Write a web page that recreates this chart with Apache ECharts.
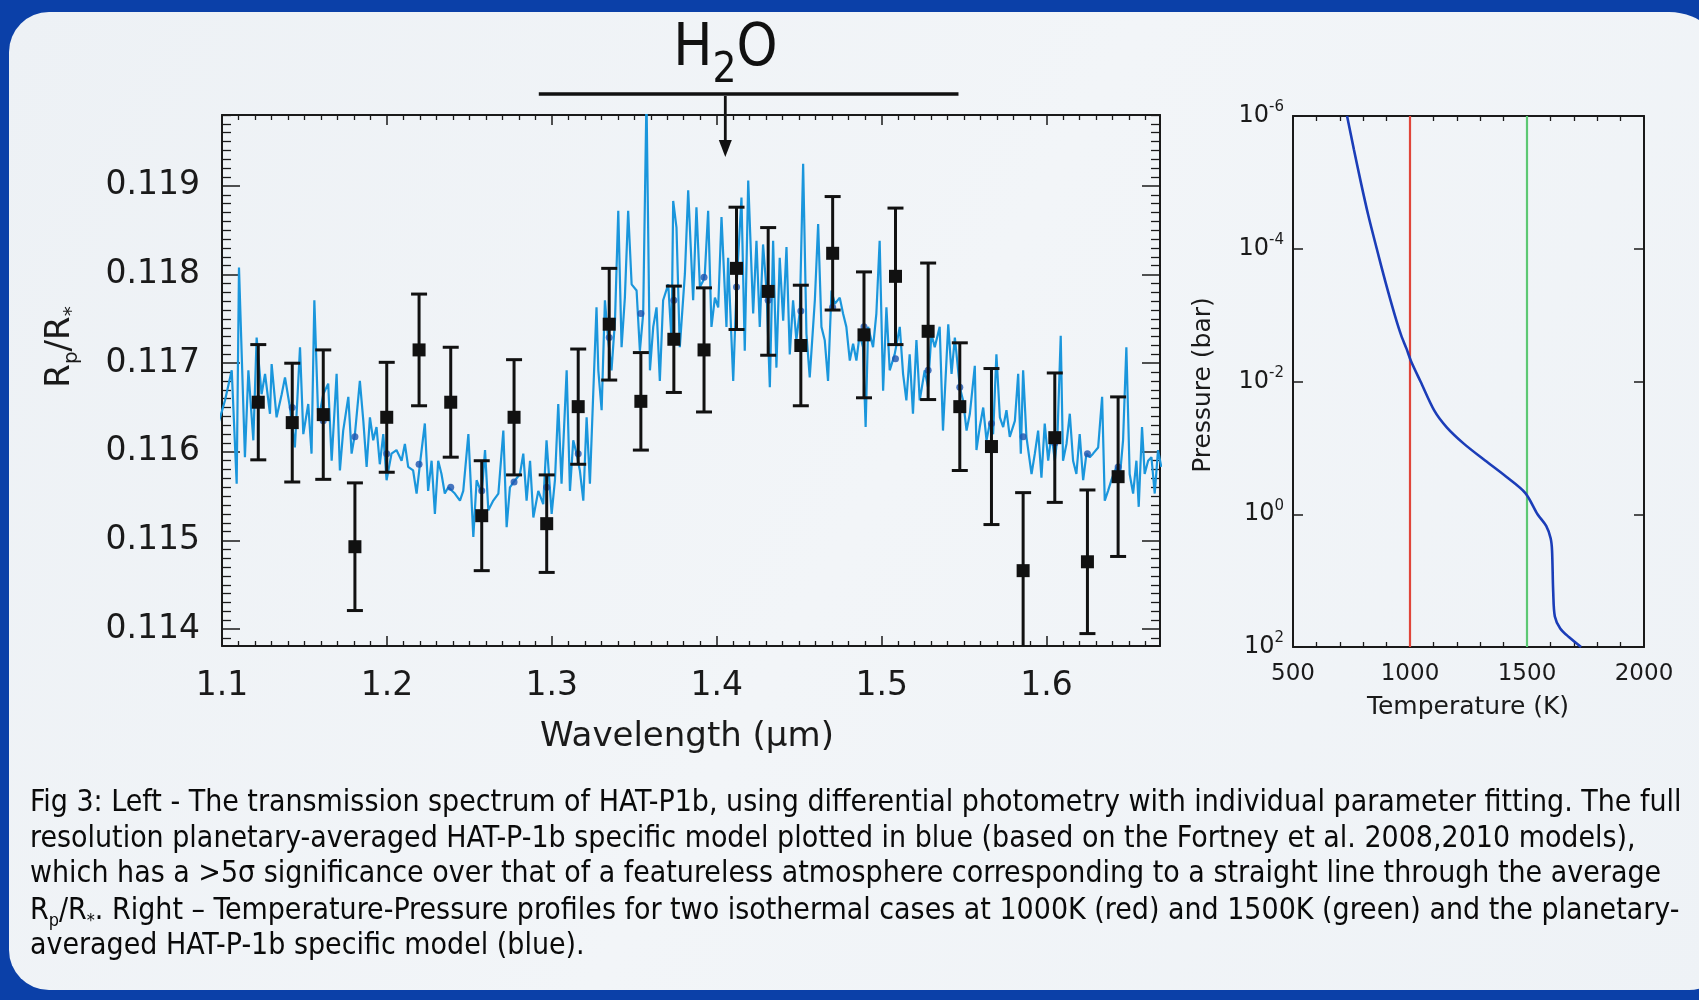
<!DOCTYPE html>
<html><head><meta charset="utf-8">
<script src="https://cdn.jsdelivr.net/npm/echarts@6/dist/echarts.min.js"></script>
<style>html,body{margin:0;padding:0;background:#0b40a8;} #c{width:1699px;height:1000px;}</style>
</head><body><div id="c"></div>
<script>
// ---------- data: left panel (transmission spectrum) ----------
const wavelength = [1.1220,1.1426,1.1614,1.1806,1.1999,1.2195,1.2387,1.2575,1.2771,1.2969,1.3160,1.3348,1.3540,1.3740,1.3923,1.4120,1.4312,1.4510,1.4703,1.4893,1.5084,1.5282,1.5474,1.5666,1.5858,1.6050,1.6248,1.6434];
const rpRs = [0.11656,0.11633,0.11642,0.11493,0.11639,0.11715,0.11656,0.11528,0.11639,0.11519,0.11651,0.11744,0.11657,0.11727,0.11715,0.11807,0.11781,0.11720,0.11824,0.11732,0.11798,0.11736,0.11651,0.11606,0.11466,0.11616,0.11476,0.11572];
const rpErr = [0.00065,0.00067,0.00073,0.00072,0.00062,0.00063,0.00062,0.00062,0.00065,0.00055,0.00065,0.00063,0.00055,0.00060,0.00070,0.00069,0.00072,0.00068,0.00064,0.00071,0.00077,0.00077,0.00072,0.00088,0.00088,0.00073,0.00081,0.00090];
const binnedModel = [0.11660,0.11650,0.11635,0.11617,0.11598,0.11586,0.11560,0.11556,0.11566,0.11560,0.11598,0.11729,0.11756,0.11771,0.11797,0.11786,0.11771,0.11759,0.11763,0.11741,0.11705,0.11692,0.11673,0.11632,0.11617,0.11610,0.11598,0.11583];
const modelWl = [
1.0952,1.0978,1.1018,1.1059,1.1089,1.1103,1.1139,1.1160,1.1190,1.1210,1.1240,1.1261,1.1291,1.1301,1.1331,1.1362,1.1382,1.1412,1.1442,1.1473,
1.1493,1.1523,1.1543,1.1560,1.1584,1.1614,1.1644,1.1665,1.1695,1.1715,1.1735,1.1766,1.1786,1.1806,1.1836,1.1857,1.1877,1.1897,1.1917,1.1937,
1.1957,1.1978,1.1998,1.2028,1.2058,1.2089,1.2109,1.2129,1.2159,1.2180,1.2200,1.2230,1.2250,1.2271,1.2291,1.2311,1.2331,1.2351,1.2372,1.2412,
1.2443,1.2463,1.2494,1.2524,1.2544,1.2575,1.2595,1.2615,1.2645,1.2676,1.2706,1.2726,1.2746,1.2777,1.2807,1.2827,1.2847,1.2868,1.2888,1.2918,
1.2948,1.2968,1.2999,1.3019,1.3039,1.3059,1.3090,1.3110,1.3130,1.3150,1.3170,1.3191,1.3211,1.3231,1.3251,1.3271,1.3282,1.3302,1.3322,1.3342,
1.3362,1.3383,1.3403,1.3423,1.3443,1.3463,1.3484,1.3514,1.3534,1.3554,1.3574,1.3595,1.3615,1.3635,1.3655,1.3675,1.3706,1.3726,1.3736,1.3756,
1.3776,1.3807,1.3827,1.3857,1.3877,1.3898,1.3918,1.3928,1.3948,1.3968,1.3989,1.4009,1.4029,1.4059,1.4069,1.4100,1.4120,1.4150,1.4170,1.4191,
1.4221,1.4241,1.4261,1.4281,1.4302,1.4322,1.4342,1.4362,1.4382,1.4403,1.4423,1.4443,1.4463,1.4483,1.4504,1.4524,1.4544,1.4564,1.4595,1.4615,
1.4635,1.4655,1.4675,1.4696,1.4716,1.4746,1.4766,1.4786,1.4807,1.4827,1.4847,1.4867,1.4887,1.4903,1.4918,1.4948,1.4968,1.4988,1.5009,1.5029,
1.5049,1.5079,1.5110,1.5130,1.5150,1.5170,1.5190,1.5211,1.5231,1.5261,1.5281,1.5302,1.5322,1.5352,1.5372,1.5404,1.5424,1.5444,1.5474,1.5494,
1.5515,1.5535,1.5565,1.5575,1.5595,1.5616,1.5636,1.5656,1.5676,1.5696,1.5717,1.5737,1.5757,1.5777,1.5808,1.5828,1.5844,1.5858,1.5878,1.5909,
1.5929,1.5949,1.5969,1.5989,1.6010,1.6030,1.6050,1.6066,1.6086,1.6100,1.6121,1.6141,1.6161,1.6181,1.6201,1.6222,1.6242,1.6262,1.6282,1.6313,
1.6337,1.6353,1.6373,1.6393,1.6424,1.6444,1.6464,1.6484,1.6504,1.6525,1.6545,1.6559,1.6579,1.6595,1.6616,1.6636,1.6656,1.6676,1.6696];
const modelRpRs = [
0.11722,0.11632,0.11658,0.11692,0.11564,0.11808,0.11594,0.11692,0.11613,0.11729,0.11665,0.11688,0.11643,0.11699,0.11639,0.11665,0.11684,0.11650,0.11605,0.11718,
0.11620,0.11654,0.11598,0.11771,0.11635,0.11665,0.11677,0.11590,0.11688,0.11579,0.11624,0.11662,0.11598,0.11620,0.11680,0.11635,0.11583,0.11639,0.11613,0.11628,
0.11586,0.11620,0.11568,0.11598,0.11602,0.11590,0.11609,0.11583,0.11579,0.11553,0.11586,0.11632,0.11556,0.11590,0.11530,0.11590,0.11575,0.11553,0.11560,0.11553,
0.11545,0.11556,0.11620,0.11504,0.11568,0.11553,0.11602,0.11534,0.11545,0.11553,0.11624,0.11515,0.11560,0.11568,0.11575,0.11598,0.11545,0.11590,0.11526,0.11556,
0.11541,0.11613,0.11530,0.11568,0.11654,0.11564,0.11692,0.11556,0.11613,0.11598,0.11579,0.11545,0.11639,0.11564,0.11665,0.11763,0.11692,0.11647,0.11771,0.11726,
0.11692,0.11748,0.11872,0.11718,0.11774,0.11872,0.11789,0.11782,0.11714,0.11756,0.12000,0.11692,0.11741,0.11763,0.11680,0.11771,0.11789,0.11726,0.11883,0.11853,
0.11718,0.11801,0.11895,0.11771,0.11876,0.11786,0.11793,0.11801,0.11872,0.11741,0.11774,0.11763,0.11865,0.11741,0.11819,0.11680,0.11786,0.11887,0.11714,0.11906,
0.11756,0.11838,0.11741,0.11834,0.11782,0.11673,0.11838,0.11695,0.11819,0.11748,0.11831,0.11710,0.11771,0.11726,0.11759,0.11925,0.11733,0.11684,0.11771,0.11857,
0.11741,0.11726,0.11680,0.11782,0.11767,0.11774,0.11756,0.11741,0.11703,0.11722,0.11703,0.11733,0.11718,0.11628,0.11741,0.11718,0.11756,0.11838,0.11669,0.11763,
0.11692,0.11710,0.11741,0.11688,0.11658,0.11710,0.11643,0.11726,0.11658,0.11692,0.11673,0.11733,0.11718,0.11741,0.11624,0.11744,0.11688,0.11729,0.11673,0.11658,
0.11624,0.11643,0.11697,0.11602,0.11628,0.11650,0.11613,0.11632,0.11620,0.11710,0.11639,0.11628,0.11647,0.11617,0.11635,0.11688,0.11598,0.11692,0.11617,0.11575,
0.11598,0.11624,0.11571,0.11632,0.11590,0.11620,0.11590,0.11617,0.11731,0.11590,0.11609,0.11643,0.11590,0.11575,0.11620,0.11568,0.11598,0.11594,0.11598,0.11605,
0.11662,0.11545,0.11556,0.11568,0.11583,0.11571,0.11613,0.11718,0.11575,0.11553,0.11590,0.11538,0.11628,0.11575,0.11590,0.11594,0.11553,0.11602,0.11583];
const wlRange = [1.1, 1.6688];
const rpRange = [0.11381, 0.11980];
const h2oBand = [1.2921, 1.5466];
const h2oArrow = 1.4052;

// ---------- data: right panel (T-P profiles) ----------
const profileT = [731,760,790,822,858,895,935,962,985,1005,1045,1104,1157,1231,1321,1410,1493,1545,1582,1601,1607,1612,1619,1642,1679,1731];
const profileP = [1e-6,3.16e-6,1.0e-5,3.16e-5,1.0e-4,3.16e-4,1.0e-3,2.0e-3,3.2e-3,5.0e-3,1.0e-2,2.75e-2,4.9e-2,8.7e-2,0.155,0.27,0.48,1.0,1.5,2.3,3.5,14.8,34.7,52.5,70.8,100];
const isoT = [1000, 1500];
const isoColors = ['#e0453a', '#5cc873'];
const tRange = [500, 2000];
const pRange = [1e-6, 1e2];
const pTicks = [1e-6, 1e-4, 1e-2, 1, 1e2];

const captionLines = [
  'Fig 3: Left - The transmission spectrum of HAT-P1b, using differential photometry with individual parameter fitting. The full',
  'resolution planetary-averaged HAT-P-1b specific model plotted in blue (based on the Fortney et al. 2008,2010 models),',
  'which has a >5\u03c3 significance over that of a featureless atmosphere corresponding to a straight line through the average',
  'R{sub|p}/R{sub|*}. Right \u2013 Temperature-Pressure profiles for two isothermal cases at 1000K (red) and 1500K (green) and the planetary-',
  'averaged HAT-P-1b specific model (blue).'
];

// ---------- chart ----------
const INK = '#1a1a1a';
const TF = "'DejaVu Sans', sans-serif";
const CF = "'Liberation Sans Narrow', 'DejaVu Sans Condensed', sans-serif";

const chart = echarts.init(document.getElementById('c'), null, {renderer: 'canvas', width: 1699, height: 1000});

function axisBase(extra) {
  return Object.assign({
    axisLine: {show: true, onZero: false, lineStyle: {color: INK, width: 2}},
    splitLine: {show: false},
    minorSplitLine: {show: false}
  }, extra);
}

const option = {
  backgroundColor: '#0b40a8',
  animation: false,
  grid: [
    {left: 222, right: 539, top: 115, bottom: 354, containLabel: false},
    {left: 1293, right: 55, top: 116, bottom: 353, containLabel: false}
  ],
  xAxis: [
    axisBase({gridIndex: 0, type: 'value', position: 'bottom', min: wlRange[0], max: wlRange[1], interval: 0.1,
      axisTick: {inside: true, length: 10, lineStyle: {color: INK, width: 1.5}},
      minorTick: {show: true, splitNumber: 10, length: 5, lineStyle: {color: INK, width: 1.3}},
      axisLabel: {show: true, showMaxLabel: false, fontSize: 33, color: INK, fontFamily: TF, margin: 24}}),
    axisBase({gridIndex: 0, type: 'value', position: 'top', min: wlRange[0], max: wlRange[1], interval: 0.1,
      axisTick: {inside: true, length: 10, lineStyle: {color: INK, width: 1.5}},
      minorTick: {show: true, splitNumber: 10, length: 5, lineStyle: {color: INK, width: 1.3}},
      axisLabel: {show: false}}),
    axisBase({gridIndex: 1, type: 'value', position: 'bottom', min: tRange[0], max: tRange[1], interval: 500,
      axisTick: {inside: true, length: 10, lineStyle: {color: INK, width: 1.5}},
      minorTick: {show: true, splitNumber: 5, length: 5, lineStyle: {color: INK, width: 1.3}},
      axisLabel: {show: true, fontSize: 23, color: INK, fontFamily: TF, margin: 16, formatter: v => String(v)}}),
    axisBase({gridIndex: 1, type: 'value', position: 'top', min: tRange[0], max: tRange[1], interval: 500,
      axisTick: {inside: true, length: 10, lineStyle: {color: INK, width: 1.5}},
      minorTick: {show: true, splitNumber: 5, length: 5, lineStyle: {color: INK, width: 1.3}},
      axisLabel: {show: false}})
  ],
  yAxis: [
    axisBase({gridIndex: 0, type: 'value', position: 'left', min: rpRange[0], max: rpRange[1], splitNumber: 6,
      axisTick: {inside: true, length: 18, lineStyle: {color: INK, width: 1.5}},
      minorTick: {show: true, splitNumber: 10, length: 9, lineStyle: {color: INK, width: 1.3}},
      axisLabel: {show: true, showMinLabel: false, showMaxLabel: false, fontSize: 33, color: INK, fontFamily: TF, margin: 22}}),
    axisBase({gridIndex: 0, type: 'value', position: 'right', min: rpRange[0], max: rpRange[1], splitNumber: 6,
      axisTick: {inside: true, length: 18, lineStyle: {color: INK, width: 1.5}},
      minorTick: {show: true, splitNumber: 10, length: 9, lineStyle: {color: INK, width: 1.3}},
      axisLabel: {show: false}}),
    axisBase({gridIndex: 1, type: 'log', logBase: 10, position: 'left', min: pRange[0], max: pRange[1], inverse: true,
      axisTick: {inside: true, length: 10, customValues: pTicks, lineStyle: {color: INK, width: 1.5}},
      axisLabel: {show: true, customValues: pTicks, fontSize: 24, color: INK, fontFamily: TF, margin: 9, lineHeight: 32,
        formatter: v => '10{sup|' + Math.round(Math.log10(v)) + '}',
        rich: {sup: {fontSize: 15, fontFamily: TF, color: INK, verticalAlign: 'top', lineHeight: 15}}}}),
    axisBase({gridIndex: 1, type: 'log', logBase: 10, position: 'right', min: pRange[0], max: pRange[1], inverse: true,
      axisTick: {inside: true, length: 10, customValues: pTicks, lineStyle: {color: INK, width: 1.5}},
      axisLabel: {show: false}})
  ],
  series: [
    {type: 'line', xAxisIndex: 0, yAxisIndex: 0, data: modelWl.map((w, i) => [w, modelRpRs[i]]),
      showSymbol: false, symbol: 'none', clip: true, z: 2,
      lineStyle: {color: '#1a96dc', width: 2.2}},
    {type: 'scatter', xAxisIndex: 0, yAxisIndex: 0, data: wavelength.map((w, i) => [w, binnedModel[i]]),
      symbol: 'circle', symbolSize: 7, itemStyle: {color: '#1d55b0'}, z: 3},
    {type: 'custom', xAxisIndex: 0, yAxisIndex: 0, clip: true, z: 4,
      data: wavelength.map((w, i) => [w, rpRs[i], rpRs[i] - rpErr[i], rpRs[i] + rpErr[i]]),
      renderItem: function (params, api) {
        const x = api.value(0);
        const p = api.coord([x, api.value(1)]);
        const lo = api.coord([x, api.value(2)]);
        const hi = api.coord([x, api.value(3)]);
        const cw = 8, s = 13;
        const st = {stroke: '#111', lineWidth: 3};
        return {type: 'group', children: [
          {type: 'line', shape: {x1: lo[0], y1: lo[1], x2: hi[0], y2: hi[1]}, style: st},
          {type: 'line', shape: {x1: hi[0] - cw, y1: hi[1], x2: hi[0] + cw, y2: hi[1]}, style: st},
          {type: 'line', shape: {x1: lo[0] - cw, y1: lo[1], x2: lo[0] + cw, y2: lo[1]}, style: st},
          {type: 'rect', shape: {x: p[0] - s / 2, y: p[1] - s / 2, width: s, height: s}, style: {fill: '#111'}}
        ]};
      }},
    {type: 'line', xAxisIndex: 2, yAxisIndex: 2, data: pRange.map(p => [isoT[0], p]), showSymbol: false, symbol: 'none',
      lineStyle: {color: isoColors[0], width: 2.2}, z: 2},
    {type: 'line', xAxisIndex: 2, yAxisIndex: 2, data: pRange.map(p => [isoT[1], p]), showSymbol: false, symbol: 'none',
      lineStyle: {color: isoColors[1], width: 2.2}, z: 2},
    {type: 'line', xAxisIndex: 2, yAxisIndex: 2, data: profileT.map((t, i) => [t, profileP[i]]), showSymbol: false, symbol: 'none',
      smooth: 0.3, lineStyle: {color: '#1b3db8', width: 2.6}, z: 3}
  ]
};
chart.setOption(option);

// caption font size fitted to the reference line width
const mctx = document.createElement('canvas').getContext('2d');
mctx.font = '100px ' + CF;
const capSize = Math.min(30, 100 * 1652 / mctx.measureText(captionLines[0]).width);

const pxA = chart.convertToPixel({gridIndex: 0}, [h2oArrow, rpRange[1]]);
const pxB0 = chart.convertToPixel({gridIndex: 0}, [h2oBand[0], rpRange[1]]);
const pxB1 = chart.convertToPixel({gridIndex: 0}, [h2oBand[1], rpRange[1]]);

const capY = [803, 839, 874, 911, 946];
const elements = [
  {type: 'rect', z: -100, shape: {x: 9, y: 12, width: 1720, height: 978, r: [40, 60, 40, 40]},
    style: {fill: new echarts.graphic.LinearGradient(0, 0, 1, 1, [{offset: 0, color: '#edf1f5'}, {offset: 0.5, color: '#f2f5f8'}, {offset: 1, color: '#eef2f6'}])}},
  // H2O annotation
  {type: 'text', x: pxA[0], y: 50, style: {text: 'H{sub|2}O', fontSize: 58, fontFamily: CF, fill: '#111', align: 'center', verticalAlign: 'middle', lineHeight: 84,
    rich: {sub: {fontSize: 42, fontFamily: CF, fill: '#111', verticalAlign: 'bottom', lineHeight: 42}}}},
  {type: 'line', shape: {x1: pxB0[0], y1: 94, x2: pxB1[0], y2: 94}, style: {stroke: '#111', lineWidth: 3.5}},
  {type: 'line', shape: {x1: pxA[0], y1: 96, x2: pxA[0], y2: 150}, style: {stroke: '#111', lineWidth: 2.8}},
  {type: 'polygon', shape: {points: [[pxA[0] - 6.5, 140], [pxA[0] + 6.5, 140], [pxA[0], 157]]}, style: {fill: '#111'}},
  // axis titles
  {type: 'text', x: 60, y: 347, rotation: Math.PI / 2, style: {text: 'R{sub|p}/R{sub|*}', fontSize: 34, fontFamily: TF, fill: INK,
    align: 'center', verticalAlign: 'middle', lineHeight: 44, rich: {sub: {fontSize: 20, fontFamily: TF, fill: INK, verticalAlign: 'bottom', lineHeight: 20}}}},
  {type: 'text', x: 687, y: 737, style: {text: 'Wavelength (\u03bcm)', fontSize: 34, fontFamily: TF, fill: INK, align: 'center', verticalAlign: 'middle'}},
  {type: 'text', x: 1203, y: 385, rotation: Math.PI / 2, style: {text: 'Pressure (bar)', fontSize: 25, fontFamily: TF, fill: INK, align: 'center', verticalAlign: 'middle'}},
  {type: 'text', x: 1468, y: 707, style: {text: 'Temperature (K)', fontSize: 25, fontFamily: TF, fill: INK, align: 'center', verticalAlign: 'middle'}}
];
captionLines.forEach((t, i) => {
  elements.push({type: 'text', x: 30, y: capY[i], style: {text: t, fontSize: capSize, fontFamily: CF, fill: '#0a0a0a', align: 'left', verticalAlign: 'middle',
    lineHeight: capSize * 1.3, rich: {sub: {fontSize: capSize * 0.6, fontFamily: CF, fill: '#0a0a0a', verticalAlign: 'bottom', lineHeight: capSize * 0.6}}}});
});
chart.setOption({graphic: {elements: elements}});
</script>
</body></html>
